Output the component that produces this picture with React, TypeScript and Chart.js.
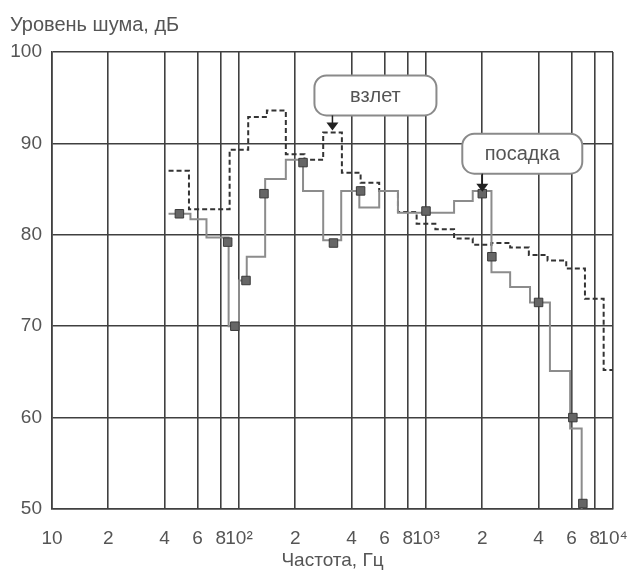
import React, { useEffect, useRef } from 'react';
import { Chart, registerables } from 'chart.js';

Chart.register(...registerables);

const yTitle = 'Уровень шума, дБ';
const xTitle = 'Частота, Гц';

const xTickValues = [10, 20, 40, 60, 80, 100, 200, 400, 600, 800, 1000, 2000, 4000, 6000, 8000, 10000];
const xTickLabels = ['10', '2', '4', '6', '8', '10²', '2', '4', '6', '8', '10³', '2', '4', '6', '8', '10⁴'];

// takeoff (dashed) — step start frequencies and levels
const takeoffFreq = [42, 54, 89.1, 112, 141, 178, 224, 282, 355, 447, 562, 708, 891, 1122, 1413, 1778, 2239, 2818, 3548, 4467, 5623, 7079, 8913, 10000];
const takeoffLevel = [87.0, 82.8, 89.3, 92.9, 93.6, 88.8, 88.2, 91.2, 86.8, 85.7, 84.8, 82.5, 81.2, 80.6, 79.6, 78.9, 79.1, 78.6, 77.8, 77.2, 76.3, 73.0, 65.2, 65.2];

// landing (solid) — step start frequencies and levels
const landingFreq = [42, 55, 67, 88, 100, 110, 138, 178, 220, 282, 352, 440, 562, 708, 1413, 1778, 2239, 2818, 3600, 4600, 5900, 6800];
const landingLevel = [82.3, 81.7, 79.7, 70.0, 75.0, 77.6, 86.1, 88.2, 84.8, 79.4, 84.8, 83.0, 84.8, 82.4, 83.7, 84.8, 75.9, 74.3, 72.6, 65.1, 58.8, 50.0];

// landing measurement markers
const markerFreq = [48, 87, 95, 109, 136, 220, 320, 447, 1000, 2000, 2250, 4000, 6100, 6900];
const markerLevel = [82.3, 79.2, 70.0, 75.0, 84.5, 87.9, 79.1, 84.8, 82.6, 84.5, 77.6, 72.6, 60.0, 50.6];

// callouts
const calloutText = ['взлет', 'посадка'];
const calloutFreq = [316, 2000];
const calloutLevel = [91.2, 84.5];

const FONT = 'Liberation Sans, Arial, sans-serif';
const TEXT = '#555555';
const GRID = '#404040';

const calloutPlugin = {
  id: 'callouts',
  afterDatasetsDraw(chart: any) {
    const { ctx, scales } = chart;
    const geo = [
      { dx: -18, dy: -57, w: 122, h: 40 },
      { dx: -20, dy: -60, w: 120, h: 40 },
    ];
    ctx.save();
    calloutText.forEach((t, i) => {
      const ax = scales.x.getPixelForValue(calloutFreq[i]);
      const ay = scales.y.getPixelForValue(calloutLevel[i]);
      const g = geo[i];
      const bx = ax + g.dx;
      const by = ay + g.dy;
      ctx.beginPath();
      ctx.roundRect(bx, by, g.w, g.h, 12);
      ctx.fillStyle = '#ffffff';
      ctx.fill();
      ctx.lineWidth = 2;
      ctx.strokeStyle = '#8a8a8a';
      ctx.stroke();
      ctx.fillStyle = TEXT;
      ctx.font = `20px ${FONT}`;
      ctx.textAlign = 'center';
      ctx.textBaseline = 'middle';
      ctx.fillText(t, bx + g.w / 2, by + g.h / 2 + 1);
      // arrow
      ctx.beginPath();
      ctx.moveTo(ax, by + g.h);
      ctx.lineTo(ax, ay - 9);
      ctx.strokeStyle = '#222';
      ctx.lineWidth = 1.5;
      ctx.stroke();
      ctx.beginPath();
      ctx.moveTo(ax - 6, ay - 10);
      ctx.lineTo(ax + 6, ay - 10);
      ctx.lineTo(ax, ay - 2);
      ctx.closePath();
      ctx.fillStyle = '#222';
      ctx.fill();
    });
    ctx.restore();
  },
};

export default function App() {
  const ref = useRef<HTMLCanvasElement | null>(null);
  useEffect(() => {
    if (!ref.current) return;
    const chart = new Chart(ref.current, {
      type: 'line',
      data: {
        datasets: [
          {
            label: 'маркеры',
            data: markerFreq.map((f, i) => ({ x: f, y: markerLevel[i] })),
            showLine: false,
            pointStyle: 'rect',
            pointRadius: 6,
            pointBackgroundColor: '#666666',
            pointBorderColor: '#3a3a3a',
            pointBorderWidth: 1,
            clip: false as any,
          },
          {
            label: 'посадка',
            data: landingFreq.map((f, i) => ({ x: f, y: landingLevel[i] })),
            stepped: true,
            borderColor: '#8c8c8c',
            borderWidth: 2,
            pointRadius: 0,
            fill: false,
          },
          {
            label: 'взлет',
            data: takeoffFreq.map((f, i) => ({ x: f, y: takeoffLevel[i] })),
            stepped: true,
            borderColor: '#333333',
            borderWidth: 2,
            borderDash: [5, 3],
            pointRadius: 0,
            fill: false,
          },
        ],
      },
      options: {
        animation: false,
        responsive: false,
        layout: { padding: { left: 2, right: 18, top: 0, bottom: 0 } },
        plugins: {
          legend: { display: false },
          tooltip: { enabled: false },
          title: {
            display: true,
            text: yTitle,
            align: 'start',
            color: TEXT,
            font: { family: FONT, size: 20, weight: 'normal' },
            padding: { top: 5, bottom: 15 },
          },
        },
        scales: {
          x: {
            type: 'logarithmic',
            min: 10,
            max: 10000,
            afterBuildTicks: (scale: any) => {
              scale.ticks = xTickValues.map((v) => ({ value: v }));
            },
            afterFit: (scale: any) => {
              scale.height = 63;
              scale.paddingLeft = 0;
              scale.paddingRight = 0;
            },
            ticks: {
              autoSkip: false,
              maxRotation: 0,
              padding: 18,
              color: TEXT,
              font: { family: FONT, size: 19 },
              callback: (_v: any, i: number) => xTickLabels[i],
            },
            grid: { color: GRID, lineWidth: 1.6, drawTicks: false },
            border: { color: GRID, width: 1.6 },
            title: {
              display: true,
              text: xTitle,
              color: TEXT,
              font: { family: FONT, size: 19 },
              padding: { top: 0, bottom: 0 },
            },
          },
          y: {
            min: 50,
            max: 100,
            afterFit: (scale: any) => {
              scale.width = 42;
              scale.paddingTop = 0;
              scale.paddingBottom = 0;
            },
            ticks: {
              stepSize: 10,
              padding: 10,
              color: TEXT,
              font: { family: FONT, size: 19 },
            },
            grid: { color: GRID, lineWidth: 1.6, drawTicks: false },
            border: { color: GRID, width: 1.6 },
          },
        },
      },
      plugins: [calloutPlugin],
    });
    return () => chart.destroy();
  }, []);
  return (
    <div style={{ width: 623, height: 564 }}>
      <canvas ref={ref} width={623} height={564} style={{ display: 'block' }} />
    </div>
  );
}
